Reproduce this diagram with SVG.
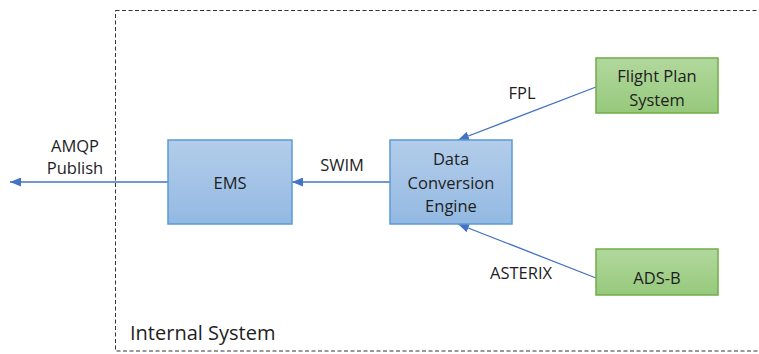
<svg xmlns="http://www.w3.org/2000/svg" width="759" height="354" viewBox="0 0 759 354">
<defs>
<linearGradient id="gb" x1="0" y1="0" x2="0" y2="1"><stop offset="0" stop-color="#b3cdea"/><stop offset="1" stop-color="#93b9e2"/></linearGradient>
<linearGradient id="gg" x1="0" y1="0" x2="0" y2="1"><stop offset="0" stop-color="#b2d89d"/><stop offset="1" stop-color="#96c97c"/></linearGradient>
<marker id="ah" markerWidth="11" markerHeight="9" refX="11" refY="4.5" orient="auto" markerUnits="userSpaceOnUse"><path d="M0,0 L11,4.5 L0,9 Z" fill="#4472c4"/></marker>
<style>
text{font-family:"Open Sans","Liberation Sans",sans-serif;font-size:16.5px;fill:#1e1e1e;}
.c{text-anchor:middle;}
.blue{fill:url(#gb);stroke:#5b9bd5;stroke-width:1.5;}
.green{fill:url(#gg);stroke:#70ad47;stroke-width:1.5;}
.edge{stroke:#4472c4;stroke-width:1.3;fill:none;marker-end:url(#ah);}
</style>
</defs>
<g id="internal-system">
<rect x="115.5" y="10.5" width="700" height="340.5" fill="none" stroke="#333" stroke-width="1" stroke-dasharray="4,2.5"/>
<text x="130" y="340" style="font-size:20px">Internal System</text>
</g>
<g id="connectors">
<line class="edge" x1="168" y1="182" x2="10" y2="182"/>
<line class="edge" x1="390" y1="182" x2="292" y2="182"/>
<line class="edge" x1="596" y1="87" x2="458" y2="140"/>
<line class="edge" x1="596" y1="278" x2="458" y2="224"/>
<text class="c" x="75" y="152">AMQP</text>
<text class="c" x="75" y="174">Publish</text>
<text class="c" x="342" y="171">SWIM</text>
<text class="c" x="522" y="99">FPL</text>
<text class="c" x="521" y="279">ASTERIX</text>
</g>
<g id="ems">
<rect class="blue" x="168" y="140" width="124" height="84"/>
<text class="c" x="230" y="189">EMS</text>
</g>
<g id="dce">
<rect class="blue" x="390" y="140" width="122" height="84"/>
<text class="c" x="451" y="165">Data</text>
<text class="c" x="451" y="189">Conversion</text>
<text class="c" x="451" y="212">Engine</text>
</g>
<g id="fps">
<rect class="green" x="596" y="58" width="122" height="55"/>
<text class="c" x="657" y="82">Flight Plan</text>
<text class="c" x="657" y="106">System</text>
</g>
<g id="adsb">
<rect class="green" x="596" y="249" width="122" height="46"/>
<text class="c" x="657" y="284">ADS-B</text>
</g>
</svg>
